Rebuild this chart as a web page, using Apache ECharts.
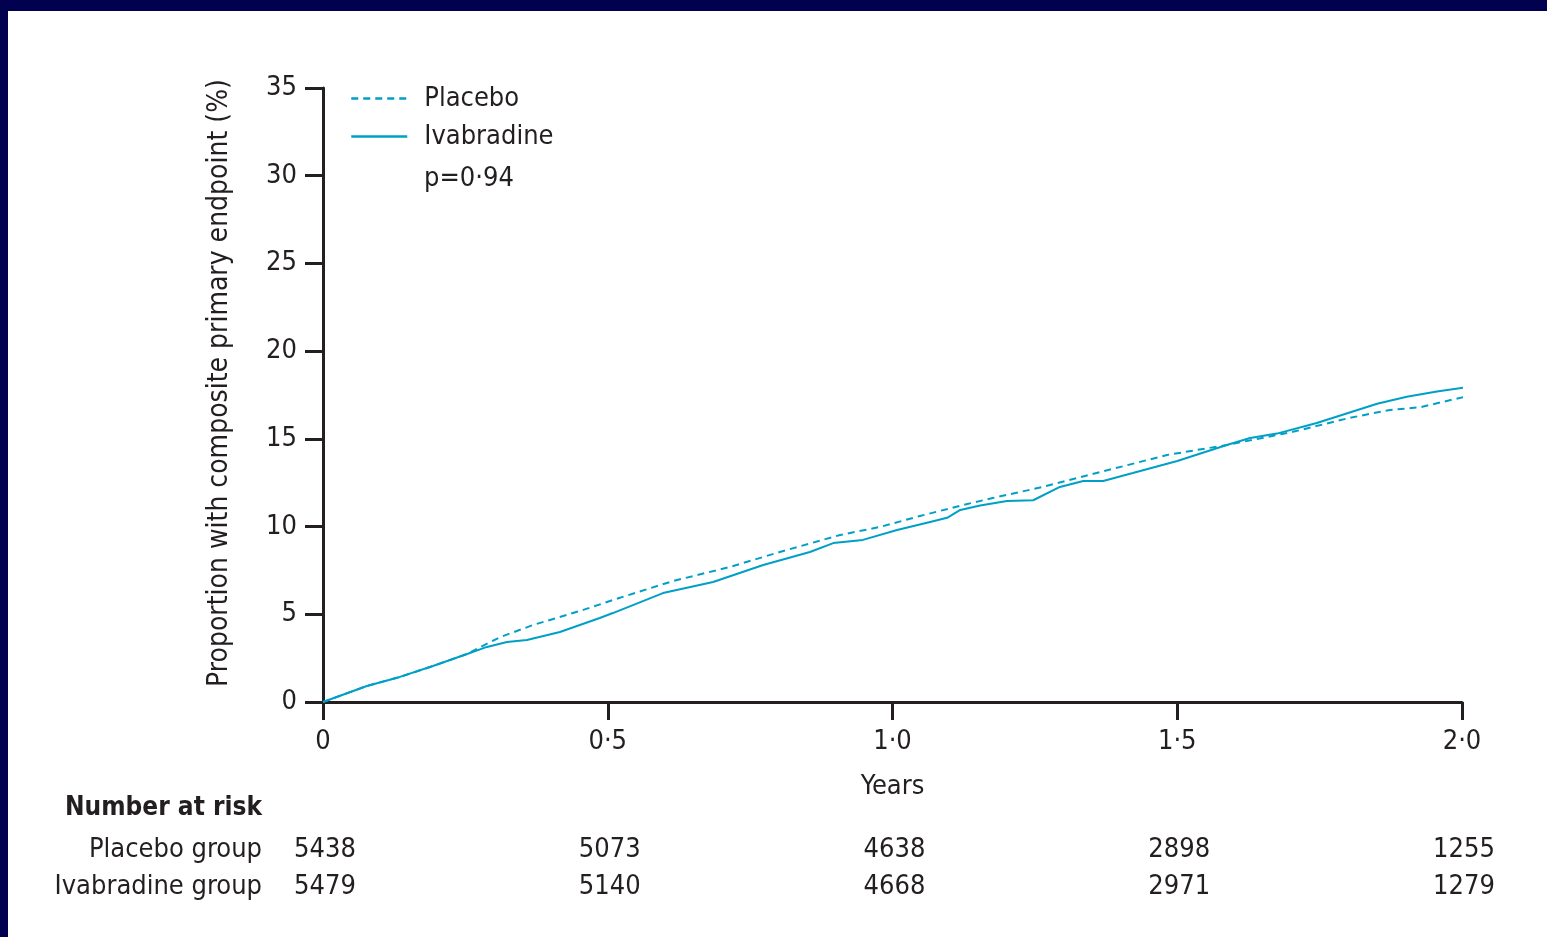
<!DOCTYPE html>
<html>
<head>
<meta charset="utf-8">
<script src="https://cdn.jsdelivr.net/npm/echarts@6/dist/echarts.min.js"></script>
<style>
html,body{margin:0;padding:0;background:#fff;}
#chart{width:1547px;height:937px;}
</style>
</head>
<body>
<div id="chart"></div>
<script>
// ---- data ----
var placeboYears = [0, 0.077, 0.135, 0.193, 0.253, 0.311, 0.369, 0.457, 0.52, 0.615, 0.715, 0.802, 0.908, 0.978, 1.048, 1.124, 1.176, 1.264, 1.364, 1.482, 1.587, 1.703, 1.803, 1.874, 1.926, 2.005];
var placeboPct   = [0, 0.91, 1.43, 2.05, 2.74, 3.7, 4.39, 5.25, 5.93, 6.9, 7.7, 8.55, 9.52, 9.98, 10.6, 11.23, 11.63, 12.26, 13.1, 14.08, 14.65, 15.4, 16.2, 16.65, 16.8, 17.4];
var ivabYears = [0, 0.077, 0.135, 0.193, 0.253, 0.288, 0.323, 0.358, 0.416, 0.451, 0.486, 0.509, 0.597, 0.685, 0.773, 0.855, 0.896, 0.948, 1.008, 1.066, 1.096, 1.119, 1.154, 1.201, 1.247, 1.294, 1.335, 1.37, 1.422, 1.5, 1.587, 1.628, 1.675, 1.745, 1.851, 1.903, 1.956, 2.012];
var ivabPct   = [0, 0.91, 1.43, 2.05, 2.74, 3.14, 3.42, 3.53, 3.99, 4.39, 4.79, 5.07, 6.21, 6.84, 7.81, 8.55, 9.06, 9.24, 9.8, 10.26, 10.5, 10.95, 11.2, 11.46, 11.5, 12.26, 12.6, 12.6, 13.05, 13.74, 14.65, 15.05, 15.3, 15.9, 17.0, 17.4, 17.7, 17.96];
var riskYears = [0, 0.5, 1.0, 1.5, 2.0];
var riskPlacebo = [5438, 5073, 4638, 2898, 1255];
var riskIvab = [5479, 5140, 4668, 2971, 1279];
var seriesNames = ['Placebo', 'Ivabradine'];
var pValueText = 'p=0·94';
var yAxisTitle = 'Proportion with composite primary endpoint (%)';
var xAxisTitle = 'Years';
var riskTitle = 'Number at risk';
var riskRowLabels = ['Placebo group', 'Ivabradine group'];

function pairs(xs, ys){ return xs.map(function(x,i){ return [x, ys[i]]; }); }

var FONT = "'DejaVu Sans Condensed', 'Liberation Sans Narrow', 'Open Sans', sans-serif";
var INK = '#231f20';
var LINE = '#00a0c6';
var NAVY = '#02014f';

var chart = echarts.init(document.getElementById('chart'));
var option = {
  backgroundColor: '#ffffff',
  animation: false,
  textStyle: { fontFamily: FONT, color: INK },
  grid: { left: 323, right: 85, top: 88, bottom: 235, containLabel: false },
  legend: {
    orient: 'vertical', left: 345, top: 80,
    itemWidth: 56, itemHeight: 26, itemGap: 11,
    data: seriesNames,
    itemStyle: { color: 'transparent', borderWidth: 0, opacity: 0 },
    lineStyle: { width: 2.5 },
    textStyle: { fontFamily: FONT, fontSize: 27, color: INK, padding: [0,0,0,12] },
    selectedMode: false
  },
  xAxis: {
    type: 'value', min: 0, max: 2, interval: 0.5,
    name: xAxisTitle, nameLocation: 'middle', nameGap: 71,
    nameTextStyle: { fontFamily: FONT, fontSize: 27, color: INK },
    axisLine: { show: true, lineStyle: { color: INK, width: 3 } },
    axisTick: { show: true, inside: false, length: 18, lineStyle: { color: INK, width: 3 } },
    axisLabel: { margin: 26, fontFamily: FONT, fontSize: 27, color: INK,
      formatter: function(v){ return v === 0 ? '0' : v.toFixed(1).replace('.', '·'); } },
    splitLine: { show: false }
  },
  yAxis: {
    type: 'value', min: 0, max: 35, interval: 5,
    axisLine: { show: true, onZero: false, lineStyle: { color: INK, width: 3 } },
    axisTick: { show: true, inside: false, length: 18, lineStyle: { color: INK, width: 3 } },
    axisLabel: { margin: 26, fontFamily: FONT, fontSize: 27, color: INK },
    splitLine: { show: false }
  },
  series: [
    { name: seriesNames[0], type: 'line', data: pairs(placeboYears, placeboPct),
      showSymbol: false, symbol: 'none', clip: false,
      lineStyle: { color: LINE, width: 2, type: [7, 5] }, itemStyle: { color: LINE } },
    { name: seriesNames[1], type: 'line', data: pairs(ivabYears, ivabPct),
      showSymbol: false, symbol: 'none', clip: false,
      lineStyle: { color: LINE, width: 2, type: 'solid' }, itemStyle: { color: LINE } }
  ]
};
chart.setOption(option);

var g = [
  { type: 'rect', left: 0, top: 0, shape: { width: 1547, height: 11 }, style: { fill: NAVY }, z: 100 },
  { type: 'rect', left: 0, top: 0, shape: { width: 8, height: 937 }, style: { fill: NAVY }, z: 100 },
  { type: 'text', x: 220, y: 383, rotation: Math.PI / 2,
    style: { text: yAxisTitle, font: '28px ' + FONT, fill: INK, align: 'center', verticalAlign: 'middle' } },
  { type: 'text', x: 424, y: 179, style: { text: pValueText, font: '27px ' + FONT, fill: INK, verticalAlign: 'middle', align: 'left' } },
  { type: 'text', x: 262, y: 808, style: { text: riskTitle, font: 'bold 26px ' + FONT, fill: INK, verticalAlign: 'middle', align: 'right' } },
  { type: 'text', x: 262, y: 850, style: { text: riskRowLabels[0], font: '27px ' + FONT, fill: INK, verticalAlign: 'middle', align: 'right' } },
  { type: 'text', x: 262, y: 887, style: { text: riskRowLabels[1], font: '27px ' + FONT, fill: INK, verticalAlign: 'middle', align: 'right' } }
];
riskYears.forEach(function(yr, i){
  var px = chart.convertToPixel({ xAxisIndex: 0 }, yr);
  g.push({ type: 'text', x: px + 2, y: 850, style: { text: String(riskPlacebo[i]), font: '27px ' + FONT, fill: INK, align: 'center', verticalAlign: 'middle' } });
  g.push({ type: 'text', x: px + 2, y: 887, style: { text: String(riskIvab[i]), font: '27px ' + FONT, fill: INK, align: 'center', verticalAlign: 'middle' } });
});
chart.setOption({ graphic: g });
</script>
</body>
</html>
